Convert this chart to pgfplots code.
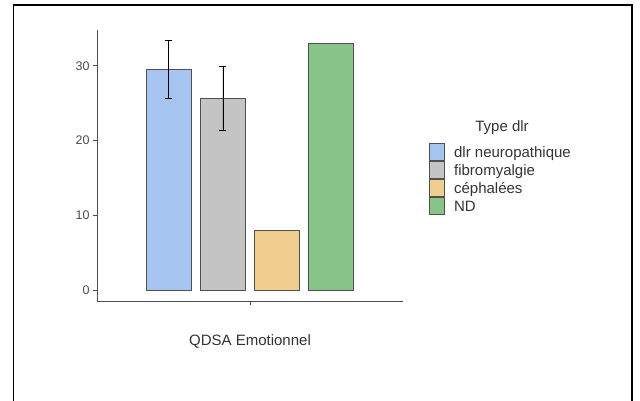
\documentclass[border=0pt]{standalone}
\usepackage{pgfplots}
\pgfplotsset{compat=1.18}
\usepackage{fontspec}
\setmainfont{Liberation Sans}
\definecolor{cneuro}{RGB}{166,196,240}
\definecolor{cfibro}{RGB}{196,196,196}
\definecolor{cceph}{RGB}{240,206,142}
\definecolor{cnd}{RGB}{136,196,138}
\definecolor{edge}{RGB}{80,80,80}
\begin{document}
\begin{tikzpicture}[x=1pt,y=1pt]
\useasboundingbox (0,0) rectangle (640,401);
\draw[line width=1.2pt] (13.5,0) -- (13.5,396) -- (632,396) -- (632,0);
\begin{axis}[
  at={(97pt,100pt)}, anchor=south west,
  scale only axis, width=306pt, height=271pt,
  xmin=0.4, xmax=1.6, ymin=-1.47, ymax=34.8,
  axis x line=bottom, axis y line=left,
  axis line style={-, draw=black!70, line width=0.9pt},
  tick style={draw=black!70, line width=0.9pt},
  tick align=outside, major tick length=4pt,
  xtick={1}, xticklabels={},
  ytick={0,10,20,30},
  /pgf/number format/assume math mode=true,
  yticklabel style={font=\fontsize{12.5}{14}\selectfont, text=black!70},
  xlabel={QDSA Emotionnel},
  xlabel style={at={(axis description cs:0.5,-0.151)}, anchor=center,
    font=\fontsize{15}{17}\selectfont, text=black!80},
  ybar, bar shift=0pt, bar width=0.176,
  legend style={at={(1.085,0.583)}, anchor=north west, draw=none, fill=none,
    inner sep=0pt, row sep=0pt, column sep=9pt,
    font=\fontsize{15}{17}\selectfont, text=black!80,
    nodes={inner sep=0pt, text height=13.7pt, text depth=3.3pt}},
  legend cell align=left,
  legend image code/.code={\draw[#1] (0pt,-8.5pt) rectangle (15pt,8.5pt);},
]
\addplot[fill=cneuro, draw=edge, line width=0.9pt,
  error bars/.cd, y dir=both, y explicit, error mark=|,
  error bar style={black, line width=0.7pt},
  error mark options={black, line width=0.7pt, mark size=3.5pt}]
  coordinates {(0.681,29.5) +- (0,3.9)};
\addlegendentry{dlr neuropathique}
\addplot[fill=cfibro, draw=edge, line width=0.9pt,
  error bars/.cd, y dir=both, y explicit, error mark=|,
  error bar style={black, line width=0.7pt},
  error mark options={black, line width=0.7pt, mark size=3.5pt}]
  coordinates {(0.894,25.7) +- (0,4.3)};
\addlegendentry{fibromyalgie}
\addplot[fill=cceph, draw=edge, line width=0.9pt]
  coordinates {(1.106,8.0)};
\addlegendentry{céphalées}
\addplot[fill=cnd, draw=edge, line width=0.9pt]
  coordinates {(1.319,33.0)};
\addlegendentry{ND}
\end{axis}
\node[font=\fontsize{15}{17}\selectfont, text=black!80] at (502,273) {Type dlr};
\end{tikzpicture}
\end{document}
